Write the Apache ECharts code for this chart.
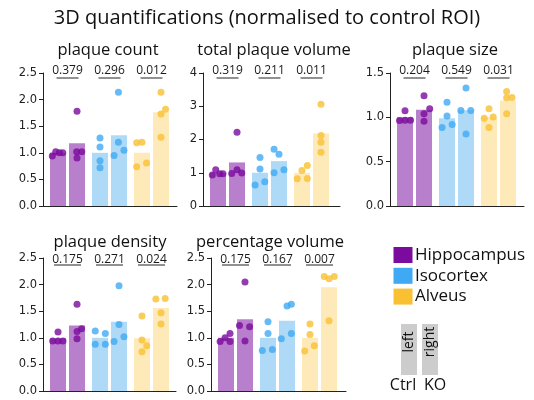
<!DOCTYPE html>
<html><head><meta charset="utf-8">
<script src="https://cdn.jsdelivr.net/npm/echarts@6/dist/echarts.min.js"></script>
<style>html,body{margin:0;padding:0;background:#fff}#c{width:534px;height:400px}</style>
</head><body><div id="c"></div>
<script>
// ---------- data ----------
const mainTitle = '3D quantifications (normalised to control ROI)';
const regions = ['Hippocampus', 'Isocortex', 'Alveus'];
const conditions = ['Ctrl', 'KO'];
const sides = ['left', 'right'];
const panelTitles = ['plaque count', 'total plaque volume', 'plaque size', 'plaque density', 'percentage volume'];
const yMaxes = [2.5, 4, 1.5, 2.5, 2.5];
const yIntervals = [0.5, 1, 0.5, 0.5, 0.5];
const yDecimals = [1, 0, 1, 1, 1];

// bar order: Hippocampus Ctrl, Hippocampus KO, Isocortex Ctrl, Isocortex KO, Alveus Ctrl, Alveus KO
const barsCount   = [1.0, 1.18, 1.0, 1.33, 1.0, 1.76];
const barsVolume  = [1.0, 1.31, 1.0, 1.35, 1.0, 2.18];
const barsSize    = [1.0, 1.085, 0.99, 1.08, 1.0, 1.19];
const barsDensity = [0.99, 1.23, 1.0, 1.30, 0.99, 1.56];
const barsPercent = [1.0, 1.35, 1.0, 1.32, 1.0, 1.95];

const pCount   = ['0.379', '0.296', '0.012'];
const pVolume  = ['0.319', '0.211', '0.011'];
const pSize    = ['0.204', '0.549', '0.031'];
const pDensity = ['0.175', '0.271', '0.024'];
const pPercent = ['0.175', '0.167', '0.007'];

// individual points per bar: [horizontal jitter (bar units), value]
const ptsCount = [
  [[-0.3, 0.94], [-0.12, 1.02], [0.07, 1.0], [0.25, 1.0]],
  [[0, 1.78], [0, 0.90], [-0.02, 1.02], [0.25, 1.02]],
  [[0, 1.28], [0, 1.11], [0, 0.85], [0, 0.72]],
  [[-0.03, 2.14], [-0.03, 1.20], [-0.26, 0.95], [0.26, 1.05]],
  [[-0.28, 1.19], [0, 1.20], [-0.28, 0.74], [0.24, 0.81]],
  [[0, 2.14], [0.24, 1.82], [0, 1.73], [0, 1.29]]
];
const ptsVolume = [
  [[-0.3, 0.93], [-0.12, 1.09], [0.09, 0.97], [0.26, 0.97]],
  [[0, 2.22], [-0.28, 0.98], [0, 1.09], [0.25, 0.99]],
  [[0, 1.46], [0, 1.11], [-0.26, 0.63], [0.25, 0.73]],
  [[-0.26, 1.71], [0, 1.56], [-0.26, 1.0], [0.26, 1.09]],
  [[-0.25, 0.82], [0, 1.07], [0.28, 1.22], [0.28, 0.83]],
  [[0, 3.06], [0, 2.12], [0, 1.92], [0, 1.62]]
];
const ptsSize = [
  [[-0.29, 0.963], [0, 1.073], [0, 0.967], [0.29, 0.967]],
  [[0, 1.243], [0.3, 1.096], [0, 1.04], [0, 0.956]],
  [[0, 1.171], [0, 1.016], [-0.26, 0.884], [0.27, 0.918]],
  [[0, 1.33], [-0.27, 1.077], [0.25, 1.077], [0, 0.812]],
  [[0, 1.096], [0.22, 1.005], [-0.25, 0.99], [0, 0.884]],
  [[-0.07, 1.29], [-0.07, 1.22], [0.21, 1.224], [-0.07, 1.04]]
];
const ptsDensity = [
  [[-0.28, 0.94], [0, 1.11], [0, 0.94], [0.26, 0.94]],
  [[0, 1.63], [0.24, 1.17], [0, 1.12], [0, 0.98]],
  [[-0.25, 1.13], [0.28, 1.08], [-0.25, 0.88], [0.28, 0.88]],
  [[0, 1.98], [0, 1.25], [-0.26, 0.93], [0.26, 1.02]],
  [[0, 1.41], [0, 0.96], [0.25, 0.85], [0, 0.74]],
  [[-0.27, 1.73], [0.22, 1.74], [0, 1.47], [0, 1.26]]
];
const ptsPercent = [
  [[-0.31, 0.93], [-0.05, 1.0], [0.21, 1.08], [0.21, 0.93]],
  [[0, 2.05], [-0.29, 1.23], [0.24, 1.21], [0, 0.94]],
  [[0, 1.30], [0, 1.08], [-0.3, 0.76], [0.23, 0.78]],
  [[0, 1.60], [0.23, 1.63], [0.23, 1.08], [-0.3, 0.98]],
  [[0, 1.26], [0, 1.06], [-0.28, 0.75], [0.23, 0.85]],
  [[-0.25, 2.15], [0, 2.11], [0.28, 2.15], [0, 1.32]]
];

const allBars = [barsCount, barsVolume, barsSize, barsDensity, barsPercent];
const allPts = [ptsCount, ptsVolume, ptsSize, ptsDensity, ptsPercent];
const allP = [pCount, pVolume, pSize, pDensity, pPercent];

// ---------- layout / style ----------
const barPos = [0, 1, 2.21, 3.21, 4.42, 5.42];
const pairCenters = [0.5, 2.71, 4.92];
const unitPx = 19;
const xMinV = -0.79;
const gridBoxes = [
  {left: 43, top: 73, width: 134, height: 133},
  {left: 203, top: 73, width: 137, height: 133},
  {left: 390, top: 73, width: 134, height: 133},
  {left: 43, top: 258, width: 133, height: 133},
  {left: 211, top: 258, width: 135, height: 133}
];
const titlePos = [[108, 50], [274, 50], [455, 50], [110, 242], [270, 242]];
const pStyle = [
  {tdy: -2, ldy: 5, lw: 22}, {tdy: -2, ldy: 5, lw: 22}, {tdy: -2, ldy: 5, lw: 22},
  {tdy: 2, ldy: 7, lw: 27}, {tdy: 2, ldy: 7, lw: 27}
];
const regionDark = ['#7B0A9E', '#40A9F3', '#F9C132'];
const regionLight = ['#B880CC', '#AEDAF8', '#FEE9B8'];
const TXT = '"Open Sans", "Noto Sans", sans-serif';
const AX = '"DejaVu Sans", sans-serif';

const chart = echarts.init(document.getElementById('c'), null, {renderer: 'canvas'});

const grid = [], xAxis = [], yAxis = [], series = [];
allBars.forEach((bars, i) => {
  grid.push(Object.assign({containLabel: false}, gridBoxes[i]));
  xAxis.push({
    type: 'value', gridIndex: i, min: xMinV, max: xMinV + gridBoxes[i].width / unitPx,
    axisLine: {show: true, onZero: false, lineStyle: {color: '#222', width: 1}},
    axisTick: {show: false}, axisLabel: {show: false}, splitLine: {show: false}
  });
  yAxis.push({
    type: 'value', gridIndex: i, min: 0, max: yMaxes[i], interval: yIntervals[i],
    axisLine: {show: true, onZero: false, lineStyle: {color: '#222', width: 1}},
    axisTick: {show: true, length: 4, lineStyle: {color: '#222'}},
    axisLabel: {margin: 6, color: '#222', fontFamily: AX, fontSize: 11.5,
      formatter: v => v.toFixed(yDecimals[i])},
    splitLine: {show: false}
  });
  series.push({
    type: 'bar', xAxisIndex: i, yAxisIndex: i, barWidth: 16, silent: true,
    data: bars.map((v, j) => ({value: [barPos[j], v], itemStyle: {color: regionLight[Math.floor(j / 2)]}}))
  });
  const pts = [];
  allPts[i].forEach((grp, j) => grp.forEach(([dx, v]) => {
    pts.push({value: [barPos[j] + dx, v], itemStyle: {color: regionDark[Math.floor(j / 2)]}});
  }));
  series.push({
    type: 'scatter', xAxisIndex: i, yAxisIndex: i, symbol: 'circle', symbolSize: 7,
    silent: true, z: 3, data: pts
  });
  const ps = pStyle[i];
  series.push({
    type: 'custom', xAxisIndex: i, yAxisIndex: i, clip: false, silent: true, z: 4,
    data: allP[i].map((t, k) => [pairCenters[k], yMaxes[i]]),
    renderItem: (params, api) => {
      const p = api.coord([api.value(0), api.value(1)]);
      return {type: 'group', children: [
        {type: 'text', x: p[0], y: p[1] + ps.tdy,
          style: {text: allP[i][params.dataIndex], fill: '#1a1a1a', font: '12px ' + TXT, align: 'center', verticalAlign: 'middle'}},
        {type: 'line', shape: {x1: p[0] - ps.lw / 2, y1: p[1] + ps.ldy, x2: p[0] + ps.lw / 2, y2: p[1] + ps.ldy},
          style: {stroke: '#555', lineWidth: 1.3}}
      ]};
    }
  });
});

const graphic = [];
graphic.push({type: 'text', x: 267, y: 18, style: {text: mainTitle, fill: '#111', font: '20px ' + TXT, align: 'center', verticalAlign: 'middle'}});
panelTitles.forEach((t, i) => {
  graphic.push({type: 'text', x: titlePos[i][0], y: titlePos[i][1],
    style: {text: t, fill: '#111', font: '16.5px ' + TXT, align: 'center', verticalAlign: 'middle'}});
});
// legend
regions.forEach((r, k) => {
  const cy = 255 + k * 20.8;
  graphic.push({type: 'rect', shape: {x: 393.5, y: cy - 8, width: 19, height: 16}, style: {fill: regionDark[k]}});
  graphic.push({type: 'text', x: 415, y: cy, style: {text: r, fill: '#111', font: '17px ' + TXT, align: 'left', verticalAlign: 'middle'}});
});
// key for left / right = Ctrl / KO
[[401, 409], [422, 430]].forEach(([bx, cx], k) => {
  graphic.push({type: 'rect', shape: {x: bx, y: 324, width: 16, height: 51}, style: {fill: '#CCCCCC'}});
  graphic.push({type: 'text', x: cx, y: 342, rotation: Math.PI / 2,
    style: {text: sides[k], fill: '#111', font: '14px ' + TXT, align: 'center', verticalAlign: 'middle'}});
});
graphic.push({type: 'text', x: 403, y: 385, style: {text: conditions[0], fill: '#111', font: '16px ' + TXT, align: 'center', verticalAlign: 'middle'}});
graphic.push({type: 'text', x: 435, y: 385, style: {text: conditions[1], fill: '#111', font: '16px ' + TXT, align: 'center', verticalAlign: 'middle'}});

chart.setOption({animation: false, backgroundColor: '#fff', grid, xAxis, yAxis, series, graphic});
</script>
</body></html>
